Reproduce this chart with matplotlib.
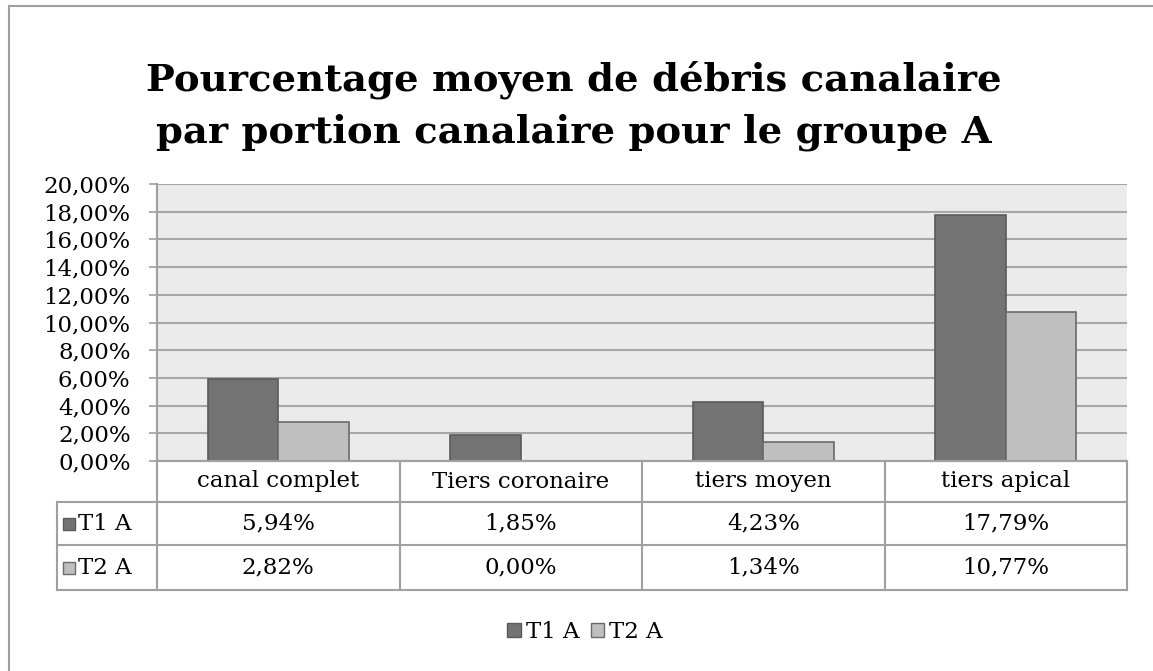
import matplotlib
matplotlib.use('Agg')
import matplotlib.pyplot as plt
from matplotlib.patches import Patch
from matplotlib.lines import Line2D
import numpy as np

# data
categories = ['canal complet', 'Tiers coronaire', 'tiers moyen', 'tiers apical']
series = ['T1 A', 'T2 A']
t1 = [5.94, 1.85, 4.23, 17.79]
t2 = [2.82, 0.00, 1.34, 10.77]
title = 'Pourcentage moyen de débris canalaire\npar portion canalaire pour le groupe A'

c1, c2 = '#737373', '#bfbfbf'
e1, e2 = '#5a5a5a', '#6a6a6a'
line_c = '#a0a0a0'

plt.rcParams['font.family'] = ['DejaVu Serif']

W, H = 1153, 671
fig = plt.figure(figsize=(W / 100, H / 100), dpi=100)

# plot area
ax = fig.add_axes([157 / W, 1 - 461 / H, 970 / W, 277 / H])
ax.set_facecolor('#ebebeb')
x = np.arange(len(categories))
w = 0.29
ax.bar(x - w / 2, t1, w, color=c1, edgecolor=e1, linewidth=1.2, zorder=3)
ax.bar(x + w / 2, t2, w, color=c2, edgecolor=e2, linewidth=1.2, zorder=3)
ax.set_xlim(-0.5, 3.5)
ax.set_ylim(0, 20)
ax.set_yticks(np.arange(0, 21, 2))
ax.set_yticklabels([f'{v:.2f}%'.replace('.', ',') for v in np.arange(0, 21, 2)], fontsize=16.5)
ax.set_xticks([])
ax.yaxis.grid(True, color='#a6a6a6', linewidth=1.5, zorder=1)
ax.set_axisbelow(True)
ax.tick_params(axis='y', length=6, width=1.2, color=line_c, pad=13)
for s in ['top', 'right']:
    ax.spines[s].set_visible(False)
for s in ['left', 'bottom']:
    ax.spines[s].set_color(line_c)
    ax.spines[s].set_linewidth(1.5)

# data table under the chart
left = -0.5 - 100 / 242.5
rows = [0, 41, 84, 129]
tax = fig.add_axes([57 / W, 1 - 590 / H, 1070 / W, 129 / H])
tax.set_xlim(left, 3.5)
tax.set_ylim(129, 0)
tax.axis('off')
kw = dict(color=line_c, linewidth=1.5, clip_on=False)
tax.plot([-0.5, 3.5], [rows[0], rows[0]], **kw)
for r in rows[1:]:
    tax.plot([left, 3.5], [r, r], **kw)
tax.plot([left, left], [rows[1], rows[3]], **kw)
for b in np.arange(-0.5, 3.6, 1):
    tax.plot([b, b], [rows[0], rows[3]], **kw)

fs = 16.5
for i, cat in enumerate(categories):
    tax.text(i, (rows[0] + rows[1]) / 2, cat, ha='center', va='center', fontsize=fs)
    tax.text(i, (rows[1] + rows[2]) / 2, f'{t1[i]:.2f}%'.replace('.', ','),
             ha='center', va='center', fontsize=fs)
    tax.text(i, (rows[2] + rows[3]) / 2, f'{t2[i]:.2f}%'.replace('.', ','),
             ha='center', va='center', fontsize=fs)
for j, (name, fc, ec) in enumerate(zip(series, [c1, c2], [e1, e2])):
    yc = (rows[j + 1] + rows[j + 2]) / 2
    tax.plot([left + 0.05], [yc], marker='s', markersize=9, color=fc,
             markeredgecolor=ec, clip_on=False)
    tax.text(left + 0.085, yc, name, ha='left', va='center', fontsize=fs)

# title
fig.text(574 / W, 1 - 106 / H, title, ha='center', va='center',
         fontsize=27.7, fontweight='bold', linespacing=1.5)

# legend
handles = [Patch(facecolor=c1, edgecolor=e1), Patch(facecolor=c2, edgecolor=e2)]
fig.legend(handles, series, loc='center', bbox_to_anchor=(585 / W, 1 - 632 / H),
           ncol=2, frameon=False, fontsize=fs, handlelength=0.6, handleheight=0.6,
           handletextpad=0.2, columnspacing=0.5)

# outer chart border
fig.add_artist(Line2D([9 / W, 9 / W], [0, 1 - 6 / H], transform=fig.transFigure,
                      color=line_c, linewidth=1.5))
fig.add_artist(Line2D([9 / W, 1], [1 - 6 / H, 1 - 6 / H], transform=fig.transFigure,
                      color=line_c, linewidth=1.5))

fig.savefig('out.png', dpi=100, facecolor='white')
